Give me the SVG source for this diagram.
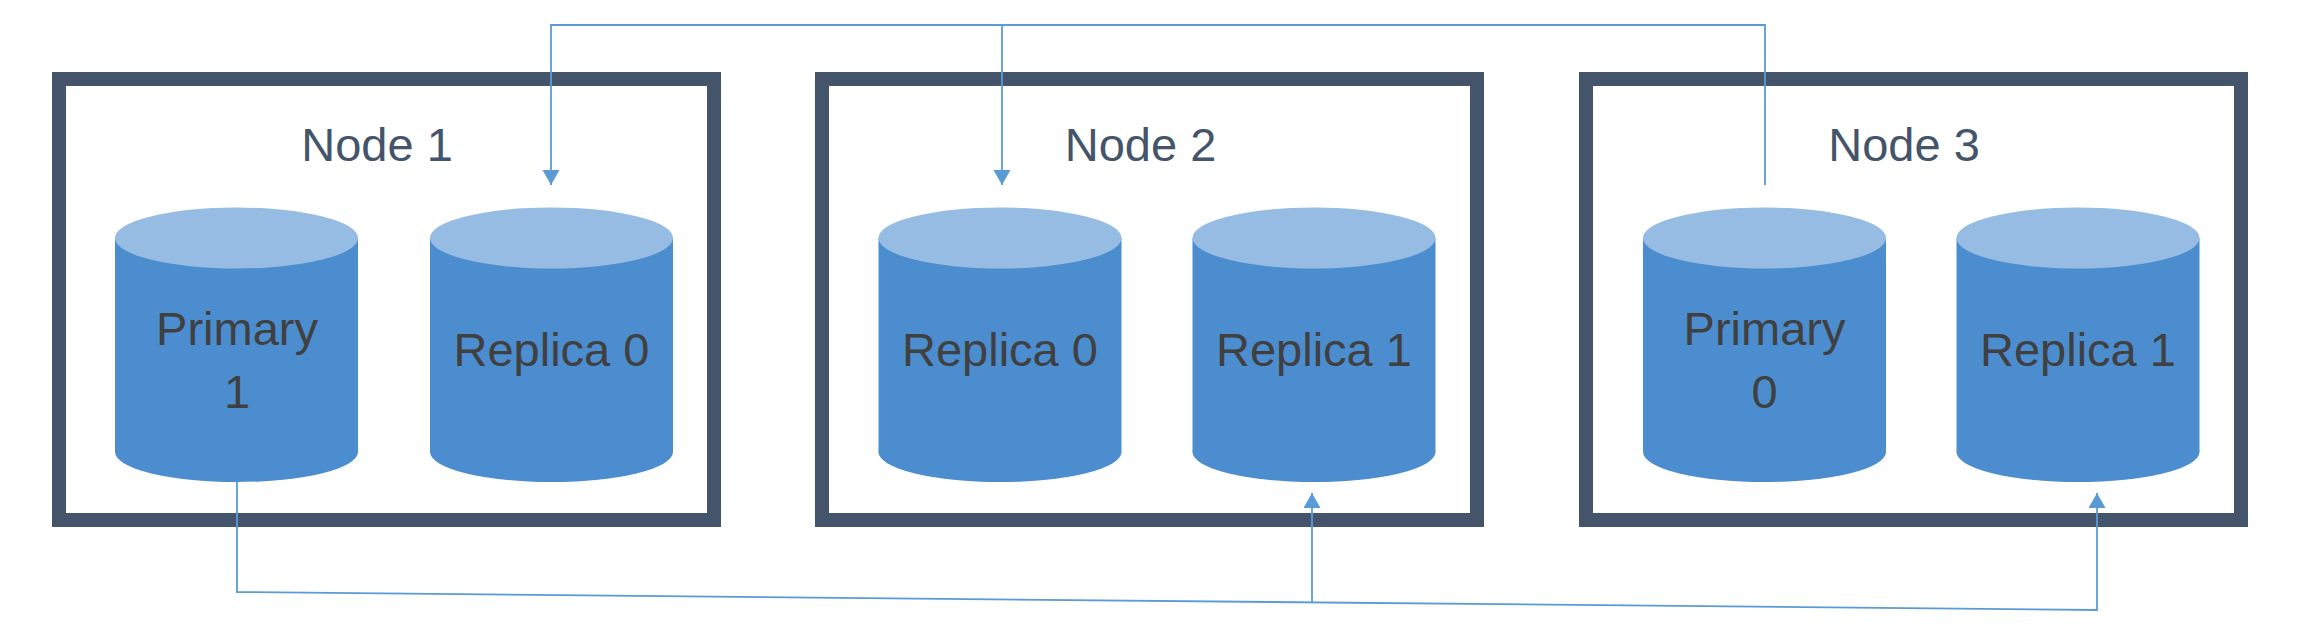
<svg xmlns="http://www.w3.org/2000/svg" width="2308" height="628" viewBox="0 0 2308 628">
<style>
.box{fill:none;stroke:#44546A;stroke-width:14}
.body{fill:#4B8DCF}
.top{fill:#96BCE3}
.nlabel{font-family:"Liberation Sans",Arial,sans-serif;font-size:47px;fill:#44546A;text-anchor:middle}
.clabel{font-family:"Liberation Sans",Arial,sans-serif;font-size:47px;fill:#404040;text-anchor:middle}
.conn{fill:none;stroke:#5B9BD5;stroke-width:1.8}
</style>
<defs>
<marker id="arr" markerUnits="userSpaceOnUse" markerWidth="16" markerHeight="18" refX="15" refY="8.5" orient="auto">
<path d="M0,0 L15,8.5 L0,17 z" fill="#5B9BD5"/>
</marker>
<g id="cyl">
<rect class="body" x="-121.5" y="238" width="243" height="214"/>
<ellipse class="body" cx="0" cy="452" rx="121.5" ry="30"/>
<ellipse class="top" cx="0" cy="238" rx="121.5" ry="30.5"/>
</g>
</defs>
<g id="node1">
<rect class="box" x="59" y="79" width="655" height="441"/>
<text class="nlabel" x="377" y="161">Node 1</text>
<g id="node1-primary1">
<use href="#cyl" x="236.5"/>
<text class="clabel" x="237" y="345">Primary</text>
<text class="clabel" x="237" y="408">1</text>
</g>
<g id="node1-replica0">
<use href="#cyl" x="551.5"/>
<text class="clabel" x="551.5" y="366">Replica 0</text>
</g>
</g>
<g id="node2">
<rect class="box" x="822" y="79" width="655" height="441"/>
<text class="nlabel" x="1140.5" y="161">Node 2</text>
<g id="node2-replica0">
<use href="#cyl" x="1000"/>
<text class="clabel" x="1000" y="366">Replica 0</text>
</g>
<g id="node2-replica1">
<use href="#cyl" x="1314"/>
<text class="clabel" x="1314" y="366">Replica 1</text>
</g>
</g>
<g id="node3">
<rect class="box" x="1586" y="79" width="655" height="441"/>
<text class="nlabel" x="1904" y="161">Node 3</text>
<g id="node3-primary0">
<use href="#cyl" x="1764.5"/>
<text class="clabel" x="1764.5" y="345">Primary</text>
<text class="clabel" x="1764.5" y="408">0</text>
</g>
<g id="node3-replica1">
<use href="#cyl" x="2078"/>
<text class="clabel" x="2078" y="366">Replica 1</text>
</g>
</g>
<g id="connectors">
<path class="conn" d="M1765,185 V25 H551 V185" marker-end="url(#arr)"/>
<path class="conn" d="M1002,25 V185" marker-end="url(#arr)"/>
<path class="conn" d="M237,482 V592 L2097,610 V493" marker-end="url(#arr)"/>
<path class="conn" d="M1312,602.4 V493" marker-end="url(#arr)"/>
</g>
</svg>
